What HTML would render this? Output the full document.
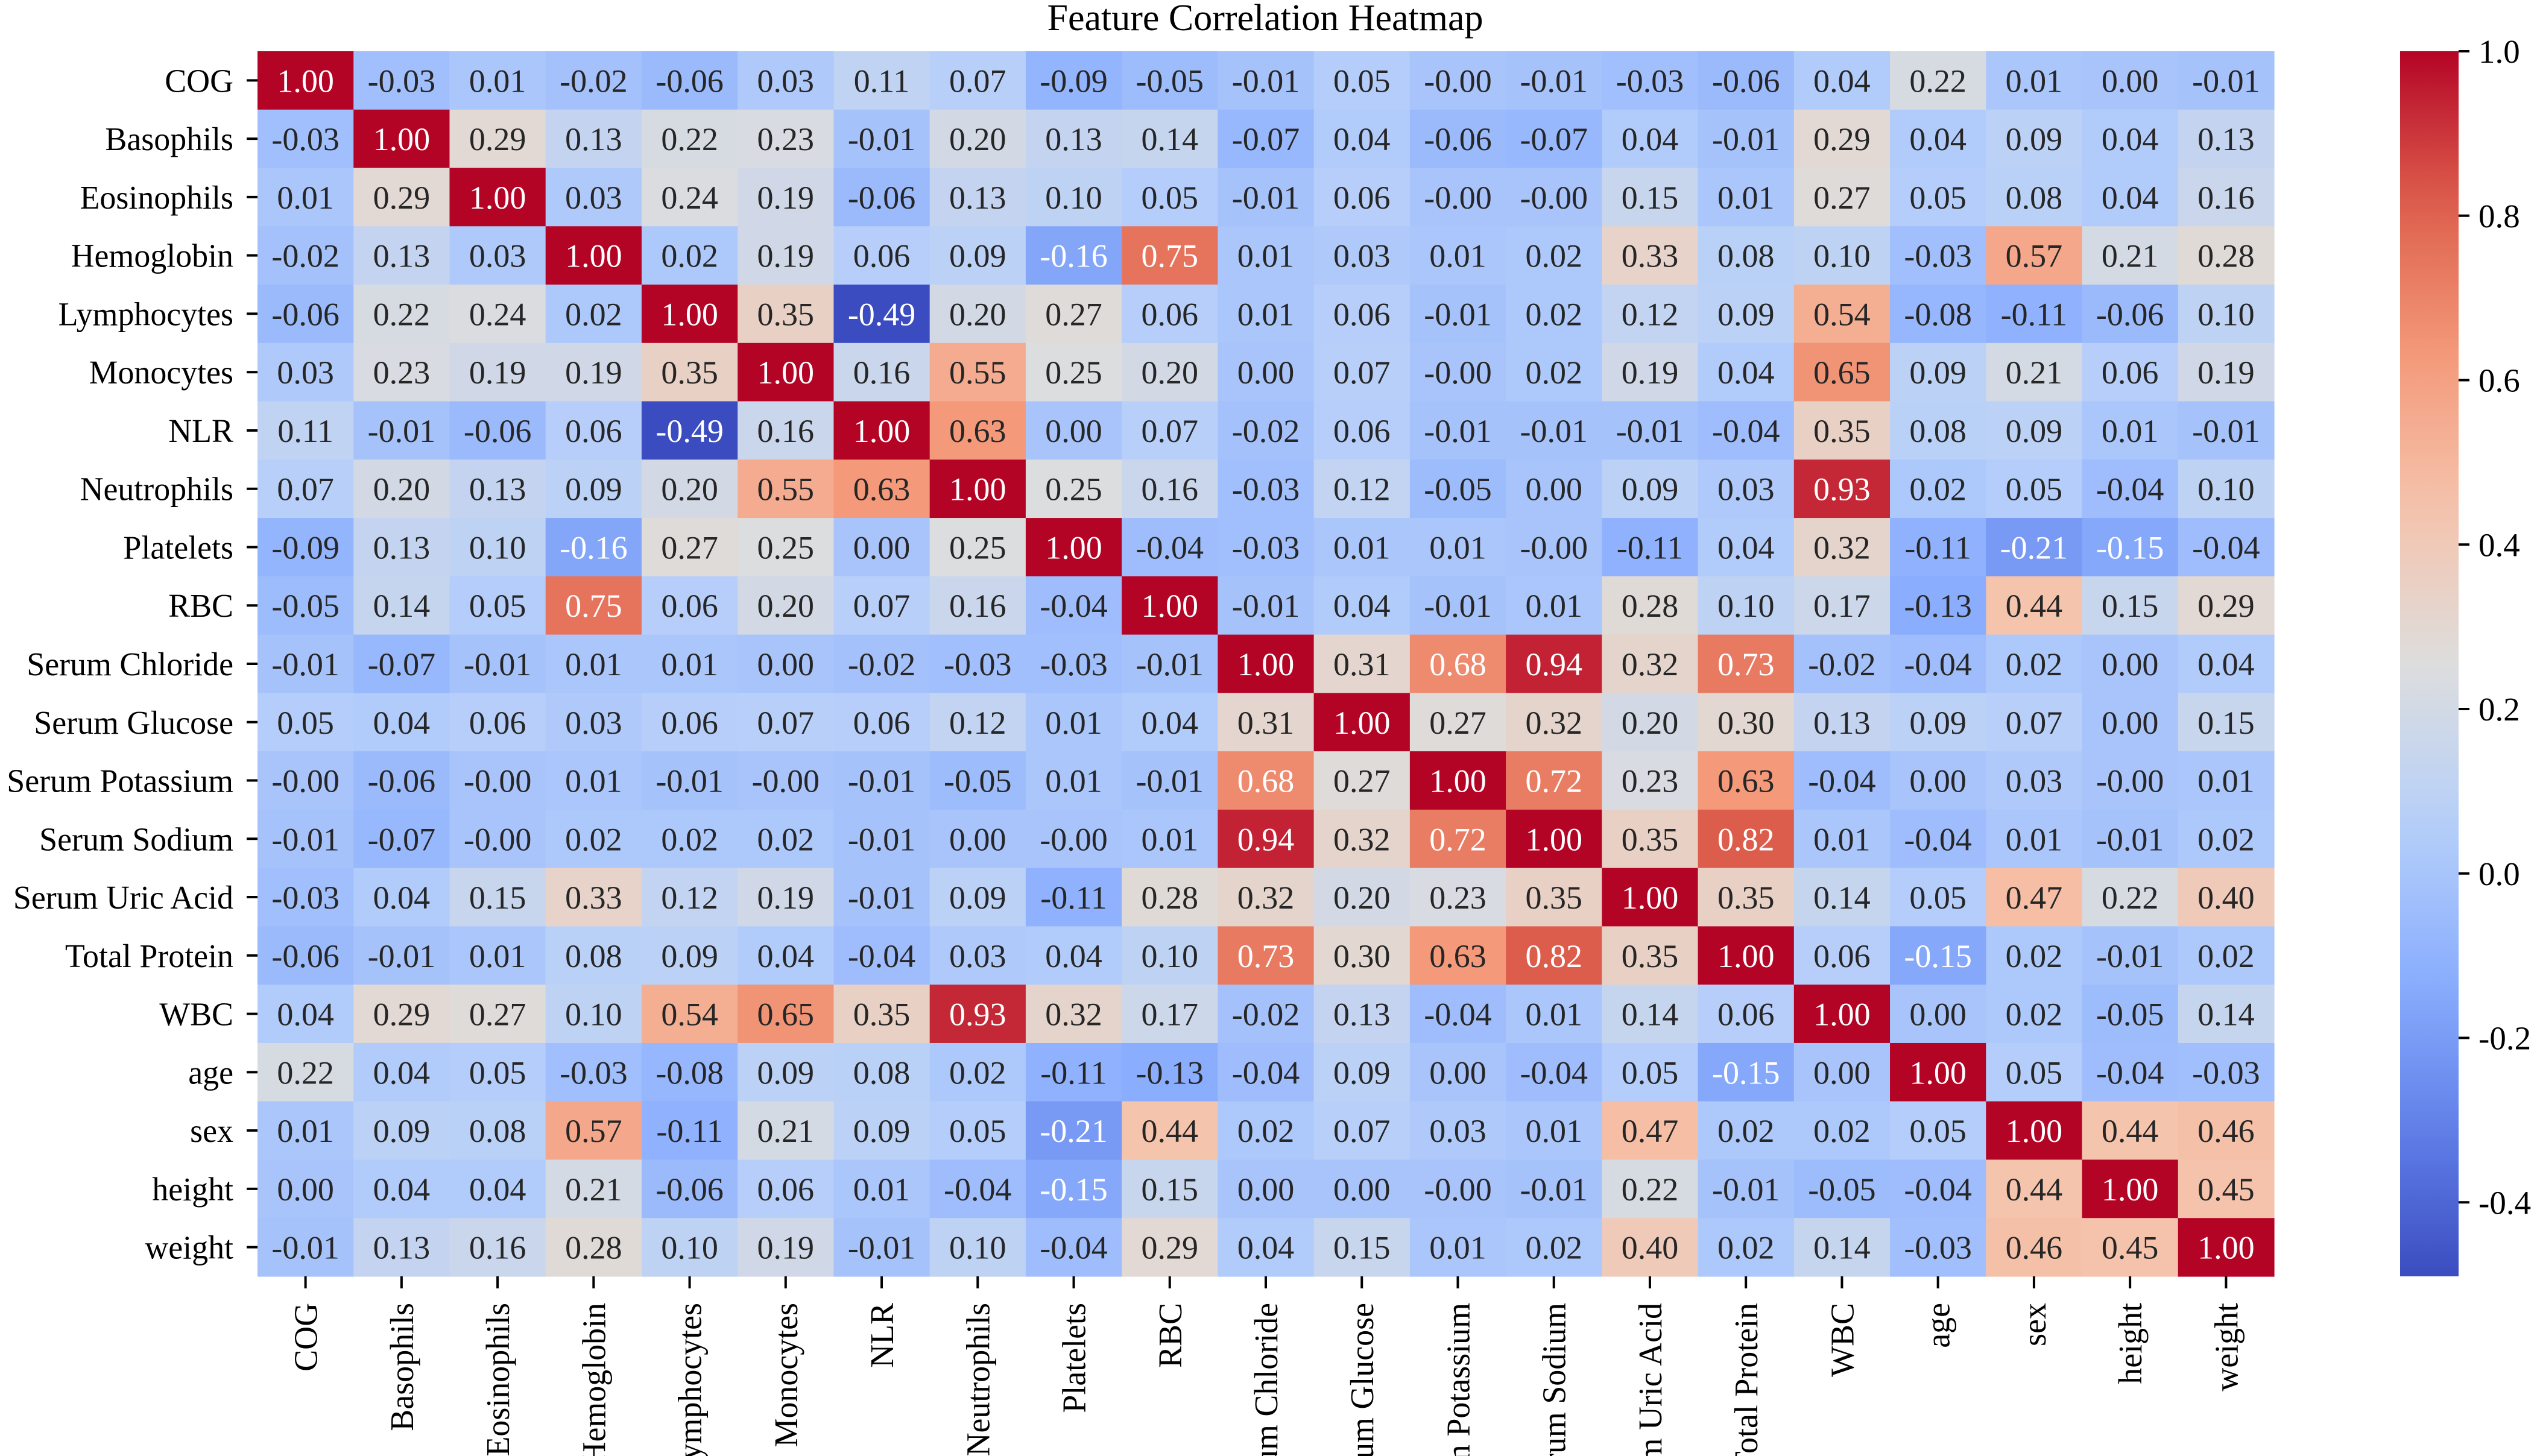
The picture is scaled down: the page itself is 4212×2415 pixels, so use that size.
<!DOCTYPE html>
<html><head><meta charset="utf-8"><style>
html,body{margin:0;padding:0;background:#fff;width:4212px;height:2415px;overflow:hidden;}
svg{display:block;font-family:"Liberation Serif",serif;overflow:hidden;}
</style></head><body>
<svg id="chart" width="4212" height="2415" viewBox="0 0 4212 2415" xmlns="http://www.w3.org/2000/svg">
<defs><clipPath id="frame"><rect x="0" y="0" width="4212" height="2415"/></clipPath>
<linearGradient id="cbgrad" x1="0" y1="1" x2="0" y2="0"></linearGradient></defs>
<rect width="4212" height="2415" fill="#fff"/>
<text x="2098" y="50" font-size="62" text-anchor="middle">Feature Correlation Heatmap</text>
<g id="cells"></g><g id="ylabels"></g><g id="xlabels" clip-path="url(#frame)"></g>
<rect x="3980" y="85" width="97" height="2032" fill="url(#cbgrad)"/>
<g id="cbticks"></g>
</svg>
<script>
const labels = ["COG","Basophils","Eosinophils","Hemoglobin","Lymphocytes","Monocytes","NLR","Neutrophils","Platelets","RBC","Serum Chloride","Serum Glucose","Serum Potassium","Serum Sodium","Serum Uric Acid","Total Protein","WBC","age","sex","height","weight"];
const rowCOG = [1.00,-0.03,0.01,-0.02,-0.06,0.03,0.11,0.07,-0.09,-0.05,-0.01,0.05,-0.001,-0.01,-0.03,-0.06,0.04,0.22,0.01,0.00,-0.01];
const rowBasophils = [-0.03,1.00,0.29,0.13,0.22,0.23,-0.01,0.20,0.13,0.14,-0.07,0.04,-0.06,-0.07,0.04,-0.01,0.29,0.04,0.09,0.04,0.13];
const rowEosinophils = [0.01,0.29,1.00,0.03,0.24,0.19,-0.06,0.13,0.10,0.05,-0.01,0.06,-0.001,-0.001,0.15,0.01,0.27,0.05,0.08,0.04,0.16];
const rowHemoglobin = [-0.02,0.13,0.03,1.00,0.02,0.19,0.06,0.09,-0.16,0.75,0.01,0.03,0.01,0.02,0.33,0.08,0.10,-0.03,0.57,0.21,0.28];
const rowLymphocytes = [-0.06,0.22,0.24,0.02,1.00,0.35,-0.49,0.20,0.27,0.06,0.01,0.06,-0.01,0.02,0.12,0.09,0.54,-0.08,-0.11,-0.06,0.10];
const rowMonocytes = [0.03,0.23,0.19,0.19,0.35,1.00,0.16,0.55,0.25,0.20,0.00,0.07,-0.001,0.02,0.19,0.04,0.65,0.09,0.21,0.06,0.19];
const rowNLR = [0.11,-0.01,-0.06,0.06,-0.49,0.16,1.00,0.63,0.00,0.07,-0.02,0.06,-0.01,-0.01,-0.01,-0.04,0.35,0.08,0.09,0.01,-0.01];
const rowNeutrophils = [0.07,0.20,0.13,0.09,0.20,0.55,0.63,1.00,0.25,0.16,-0.03,0.12,-0.05,0.00,0.09,0.03,0.93,0.02,0.05,-0.04,0.10];
const rowPlatelets = [-0.09,0.13,0.10,-0.16,0.27,0.25,0.00,0.25,1.00,-0.04,-0.03,0.01,0.01,-0.001,-0.11,0.04,0.32,-0.11,-0.21,-0.15,-0.04];
const rowRBC = [-0.05,0.14,0.05,0.75,0.06,0.20,0.07,0.16,-0.04,1.00,-0.01,0.04,-0.01,0.01,0.28,0.10,0.17,-0.13,0.44,0.15,0.29];
const rowChloride = [-0.01,-0.07,-0.01,0.01,0.01,0.00,-0.02,-0.03,-0.03,-0.01,1.00,0.31,0.68,0.94,0.32,0.73,-0.02,-0.04,0.02,0.00,0.04];
const rowGlucose = [0.05,0.04,0.06,0.03,0.06,0.07,0.06,0.12,0.01,0.04,0.31,1.00,0.27,0.32,0.20,0.30,0.13,0.09,0.07,0.00,0.15];
const rowPotassium = [-0.001,-0.06,-0.001,0.01,-0.01,-0.001,-0.01,-0.05,0.01,-0.01,0.68,0.27,1.00,0.72,0.23,0.63,-0.04,0.00,0.03,-0.001,0.01];
const rowSodium = [-0.01,-0.07,-0.001,0.02,0.02,0.02,-0.01,0.00,-0.001,0.01,0.94,0.32,0.72,1.00,0.35,0.82,0.01,-0.04,0.01,-0.01,0.02];
const rowUric = [-0.03,0.04,0.15,0.33,0.12,0.19,-0.01,0.09,-0.11,0.28,0.32,0.20,0.23,0.35,1.00,0.35,0.14,0.05,0.47,0.22,0.40];
const rowProtein = [-0.06,-0.01,0.01,0.08,0.09,0.04,-0.04,0.03,0.04,0.10,0.73,0.30,0.63,0.82,0.35,1.00,0.06,-0.15,0.02,-0.01,0.02];
const rowWBC = [0.04,0.29,0.27,0.10,0.54,0.65,0.35,0.93,0.32,0.17,-0.02,0.13,-0.04,0.01,0.14,0.06,1.00,0.00,0.02,-0.05,0.14];
const rowAge = [0.22,0.04,0.05,-0.03,-0.08,0.09,0.08,0.02,-0.11,-0.13,-0.04,0.09,0.00,-0.04,0.05,-0.15,0.00,1.00,0.05,-0.04,-0.03];
const rowSex = [0.01,0.09,0.08,0.57,-0.11,0.21,0.09,0.05,-0.21,0.44,0.02,0.07,0.03,0.01,0.47,0.02,0.02,0.05,1.00,0.44,0.46];
const rowHeight = [0.00,0.04,0.04,0.21,-0.06,0.06,0.01,-0.04,-0.15,0.15,0.00,0.00,-0.001,-0.01,0.22,-0.01,-0.05,-0.04,0.44,1.00,0.45];
const rowWeight = [-0.01,0.13,0.16,0.28,0.10,0.19,-0.01,0.10,-0.04,0.29,0.04,0.15,0.01,0.02,0.40,0.02,0.14,-0.03,0.46,0.45,1.00];
const matrix = [rowCOG,rowBasophils,rowEosinophils,rowHemoglobin,rowLymphocytes,rowMonocytes,rowNLR,rowNeutrophils,rowPlatelets,rowRBC,rowChloride,rowGlucose,rowPotassium,rowSodium,rowUric,rowProtein,rowWBC,rowAge,rowSex,rowHeight,rowWeight];
const cbTicks = [1.0,0.8,0.6,0.4,0.2,0.0,-0.2,-0.4];
const vmin = -0.49, vmax = 1.0;

const NS = "http://www.w3.org/2000/svg";
const L = 427, R = 3771, T = 85, B = 2117;
const n = labels.length;
const cw = (R - L) / n, ch = (B - T) / n;
const xPos = i => L + i * cw;
const yPos = j => T + j * ch;
const stops = [[59,76,192],[98,130,234],[141,176,254],[184,208,249],[221,221,221],[245,196,173],[244,154,123],[222,96,77],[180,4,38]];
function cmap(v){
  let t = (v - vmin) / (vmax - vmin); t = Math.max(0, Math.min(1, t));
  const p = t * (stops.length - 1), k = Math.min(stops.length - 2, Math.floor(p)), f = p - k;
  return stops[k].map((c, i) => Math.round(c + (stops[k+1][i] - c) * f));
}
function lum(c){
  const l = c.map(x => { x /= 255; return x <= 0.03928 ? x / 12.92 : Math.pow((x + 0.055) / 1.055, 2.4); });
  return 0.2126 * l[0] + 0.7152 * l[1] + 0.0722 * l[2];
}
const fmt = v => v.toFixed(2);
const cells = document.getElementById('cells');
matrix.forEach((row, j) => {
  row.forEach((v, i) => {
    const c = cmap(v);
    const r = document.createElementNS(NS, 'rect');
    r.setAttribute('x', xPos(i)); r.setAttribute('y', yPos(j));
    r.setAttribute('width', cw + 0.6); r.setAttribute('height', ch + 0.6);
    r.setAttribute('fill', `rgb(${c[0]},${c[1]},${c[2]})`);
    
    
    cells.appendChild(r);
    const t = document.createElementNS(NS, 'text');
    const cx = xPos(i) + cw / 2, cy = yPos(j) + ch / 2 + 19;
    t.setAttribute('transform', `translate(${cx},${cy}) scale(1.0,1)`);
    t.setAttribute('text-anchor', 'middle'); t.setAttribute('font-size', '54');
    t.setAttribute('fill', lum(c) > 0.408 ? '#262626' : '#ffffff');
    t.textContent = fmt(v);
    
    
    cells.appendChild(t);
  });
});
const yl = document.getElementById('ylabels');
labels.forEach((lab, j) => {
  const cy = yPos(j) + ch / 2;
  const tk = document.createElementNS(NS, 'line');
  tk.setAttribute('x1', L - 18); tk.setAttribute('x2', L); tk.setAttribute('y1', cy); tk.setAttribute('y2', cy);
  tk.setAttribute('stroke', '#000'); tk.setAttribute('stroke-width', '4');
  
  
  yl.appendChild(tk);
  const t = document.createElementNS(NS, 'text');
  t.setAttribute('transform', `translate(${L - 40},${cy + 19}) scale(0.98,1)`);
  t.setAttribute('text-anchor', 'end'); t.setAttribute('font-size', '55');
  t.textContent = lab;
  
  
  yl.appendChild(t);
});
const xl = document.getElementById('xlabels');
labels.forEach((lab, i) => {
  const cx = xPos(i) + cw / 2;
  const tk = document.createElementNS(NS, 'line');
  tk.setAttribute('x1', cx); tk.setAttribute('x2', cx); tk.setAttribute('y1', B); tk.setAttribute('y2', B + 20);
  tk.setAttribute('stroke', '#000'); tk.setAttribute('stroke-width', '4');
  
  
  xl.appendChild(tk);
  const t = document.createElementNS(NS, 'text');
  t.setAttribute('transform', `translate(${cx + 19},${B + 44}) rotate(-90) scale(0.98,1)`);
  t.setAttribute('text-anchor', 'end'); t.setAttribute('font-size', '55');
  t.textContent = lab;
  
  
  xl.appendChild(t);
});
const grad = document.getElementById('cbgrad');
for (let k = 0; k <= 20; k++) {
  const v = vmin + (vmax - vmin) * k / 20, c = cmap(v);
  const s = document.createElementNS(NS, 'stop');
  s.setAttribute('offset', (k / 20).toFixed(3));
  s.setAttribute('stop-color', `rgb(${c[0]},${c[1]},${c[2]})`);
  grad.appendChild(s);
}
const cbY = v => B - (v - vmin) / (vmax - vmin) * (B - T);
const cbt = document.getElementById('cbticks');
cbTicks.forEach(v => {
  const y = cbY(v);
  const tk = document.createElementNS(NS, 'line');
  tk.setAttribute('x1', 4077); tk.setAttribute('x2', 4095); tk.setAttribute('y1', y); tk.setAttribute('y2', y);
  tk.setAttribute('stroke', '#000'); tk.setAttribute('stroke-width', '4');
  
  
  cbt.appendChild(tk);
  const t = document.createElementNS(NS, 'text');
  t.setAttribute('transform', `translate(${4110},${y + 19}) scale(1.0,1)`);
  t.setAttribute('font-size', '55');
  t.textContent = v.toFixed(1);
  
  
  cbt.appendChild(t);
});
</script>
</body></html>
